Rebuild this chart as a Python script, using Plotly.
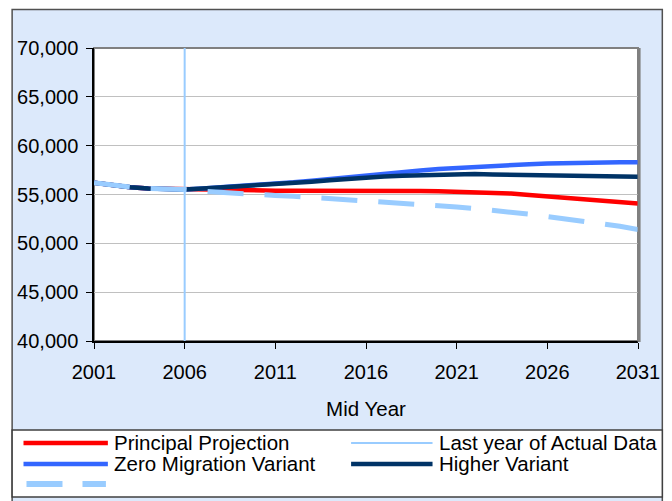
import plotly.graph_objects as go

# Mid-year population estimates and projections
years = list(range(2001, 2032))

principal = [56200, 55950, 55750, 55620, 55580, 55500, 55450, 55420, 55400, 55400,
             55390, 55390, 55400, 55400, 55390, 55380, 55370, 55360, 55350, 55330,
             55300, 55250, 55200, 55100, 54950, 54800, 54650, 54500, 54350, 54220,
             54070]
zero_migration = [56200, 55950, 55750, 55620, 55580, 55500, 55620, 55730, 55840, 55960,
                  56080, 56250, 56420, 56600, 56800, 57000, 57150, 57300, 57450, 57600,
                  57720, 57830, 57930, 58020, 58100, 58170, 58220, 58270, 58300, 58300,
                  58300]
higher = [56200, 55950, 55750, 55620, 55580, 55500, 55620, 55720, 55820, 55910,
          56000, 56150, 56300, 56450, 56600, 56740, 56850, 56930, 57000, 57060,
          57100, 57100, 57060, 57030, 57000, 56970, 56930, 56870, 56830, 56820,
          56810]
lower = [56200, 55950, 55750, 55620, 55580, 55500, 55330, 55200, 55100, 55000,
         54900, 54820, 54710, 54600, 54490, 54380, 54250, 54110, 53980, 53850,
         53720, 53560, 53390, 53200, 52980, 52750, 52510, 52260, 52000, 51740,
         51420]

last_actual_year = 2006
y_range = [40000, 70000]
x_ticks = [2001, 2006, 2011, 2016, 2021, 2026, 2031]
y_ticks = [40000, 45000, 50000, 55000, 60000, 65000, 70000]

labels = ["Principal Projection", "Last year of Actual Data",
          "Zero Migration Variant", "Higher Variant", ""]

RED = "#FF0000"
BLUE = "#3366FF"
NAVY = "#003366"
PALE = "#99CCFF"
FONT = "Liberation Sans, Arial, sans-serif"

fig = go.Figure()
fig.add_trace(go.Scatter(x=years, y=principal, mode="lines", name=labels[0],
                         line=dict(color=RED, width=4.5)))
fig.add_trace(go.Scatter(x=years, y=zero_migration, mode="lines", name=labels[2],
                         line=dict(color=BLUE, width=4.5)))
fig.add_trace(go.Scatter(x=years, y=higher, mode="lines", name=labels[3],
                         line=dict(color=NAVY, width=4.5)))
fig.add_trace(go.Scatter(x=years, y=lower, mode="lines", name=labels[4],
                         line=dict(color=PALE, width=5, dash="36px,21px")))
fig.add_trace(go.Scatter(x=[last_actual_year, last_actual_year], y=y_range,
                         mode="lines", name=labels[1],
                         line=dict(color=PALE, width=2)))

# panel geometry in paper units (plot area spans 0..1)
pl, pr = -0.1505, 1.0447
shapes = [
    # outer light-blue chart panel
    dict(type="rect", xref="paper", yref="paper", x0=pl, x1=pr, y0=-0.60, y1=1.1314,
         fillcolor="#DCE9FB", line=dict(color="#505050", width=1.5), layer="below"),
    # white plot area
    dict(type="rect", xref="paper", yref="paper", x0=0, x1=1, y0=0, y1=1,
         fillcolor="white", line=dict(color="#808080", width=2), layer="below"),
    # shadowed right edge of the plot area
    dict(type="line", xref="paper", yref="paper", x0=1.002, x1=1.002, y0=-0.003, y1=1,
         line=dict(color="#808080", width=3), layer="above"),
    # legend box
    dict(type="rect", xref="paper", yref="paper", x0=pl, x1=pr, y0=-0.5324, y1=-0.3038,
         fillcolor="white", line=dict(color="#404040", width=1.5), layer="below"),
]

# legend samples and labels
row_y = [-0.3481, -0.4198, -0.4881]
col1 = (-0.1296, 0.0255, 0.0328)
col2 = (0.4726, 0.6223, 0.6314)
legend_items = [
    (labels[0], col1, row_y[0], dict(color=RED, width=4.5)),
    (labels[1], col2, row_y[0], dict(color=PALE, width=2)),
    (labels[2], col1, row_y[1], dict(color=BLUE, width=4.5)),
    (labels[3], col2, row_y[1], dict(color=NAVY, width=4.5)),
    (labels[4], (-0.1241, 0.0219, 0.0328), row_y[2],
     dict(color=PALE, width=6, dash="36px,20px")),
]
annotations = []
for text, (xa, xb, xt), yy, ln in legend_items:
    shapes.append(dict(type="line", xref="paper", yref="paper", x0=xa, x1=xb,
                       y0=yy, y1=yy, line=ln, layer="above"))
    if text:
        annotations.append(dict(xref="paper", yref="paper", x=xt, y=yy + 0.002,
                                text=text, showarrow=False, xanchor="left",
                                yanchor="middle",
                                font=dict(family=FONT, size=20.5, color="black")))

fig.update_layout(
    width=672, height=501,
    margin=dict(l=94, r=30, t=48, b=160),
    paper_bgcolor="white", plot_bgcolor="white",
    showlegend=False,
    font=dict(family=FONT, size=20, color="black"),
    shapes=shapes, annotations=annotations,
    xaxis=dict(range=[2001, 2031], tickvals=x_ticks, ticks="outside", ticklen=6,
               tickcolor="black", showgrid=False, zeroline=False,
               showline=True, linecolor="black", linewidth=1.5,
               ticklabelstandoff=6,
               title=dict(text="Mid Year", standoff=20,
                          font=dict(family=FONT, size=20.5))),
    yaxis=dict(range=y_range, tickvals=y_ticks, tickformat=",", ticks="outside",
               ticklen=6, tickcolor="black", showgrid=True, gridcolor="#C0C0C0",
               gridwidth=1, zeroline=False, showline=True, linecolor="black",
               linewidth=1.5, ticklabelstandoff=4),
)

fig.write_html("out.html")
